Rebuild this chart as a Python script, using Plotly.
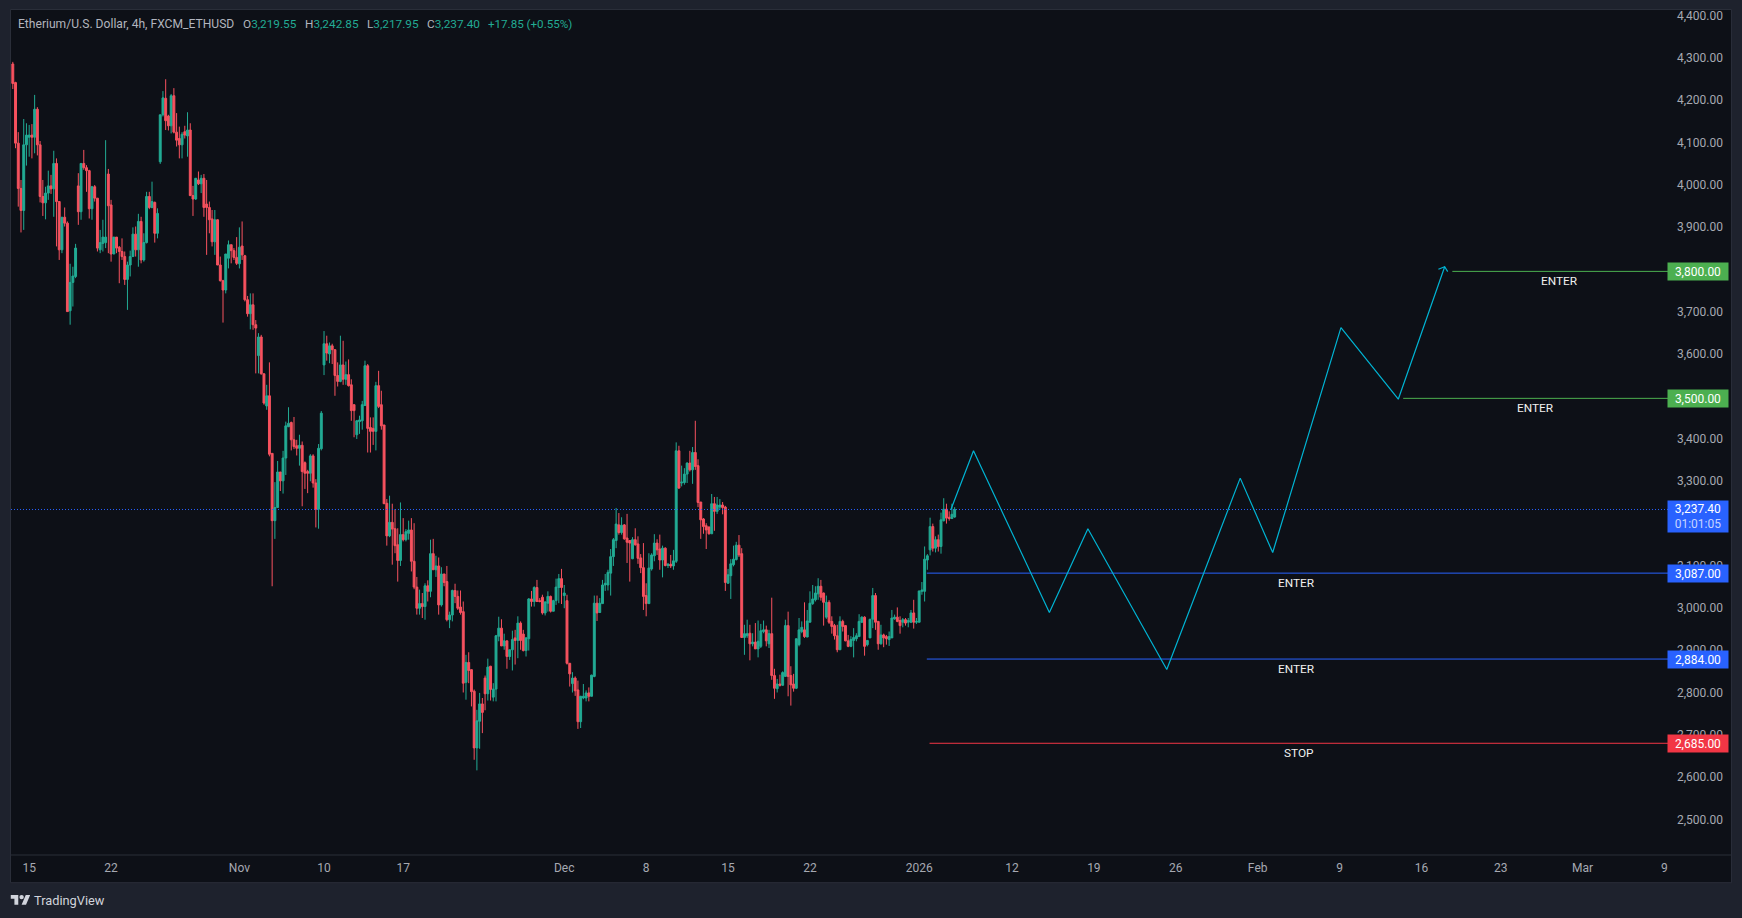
import plotly.graph_objects as go

opens = [
4290,4246,4103,3996,3944,4099,4117,4122,4117,4183,
4099,3977,3962,3985,4002,3995,4055,3965,3851,3928,
3914,3707,3774,3788,4002,3941,4055,4045,4038,3948,
4000,3973,3851,3866,3868,4030,3957,3841,3881,3857,
3847,3835,3781,3815,3835,3888,3851,3918,3827,3868,
3977,3951,3963,3890,4059,4170,4209,4167,4144,4215,
4129,4114,4099,4130,4120,4134,3979,3971,4016,4007,
4020,3959,3951,3924,3870,3922,3815,3778,3756,3831,
3863,3849,3833,3818,3860,3837,3733,3700,3721,3674,
3601,3645,3558,3482,3506,3370,3211,3242,3326,3305,
3359,3433,3443,3402,3388,3382,3389,3348,3327,3323,
3364,3300,3238,3381,3579,3629,3605,3624,3615,3554,
3540,3579,3545,3556,3532,3485,3414,3445,3447,3483,
3577,3431,3429,3422,3530,3485,3437,3252,3175,3207,
3192,3154,3117,3178,3166,3181,3189,3115,3054,3004,
3015,3008,3057,3044,3133,3095,3104,3012,3085,3067,
2977,2988,3046,3032,3007,2996,2829,2876,2859,2808,
2674,2737,2778,2839,2802,2867,2794,2813,2938,2957,
2915,2927,2890,2906,2934,2928,2969,2943,2904,2932,
3026,3020,3053,3022,3030,2993,3016,3032,2997,3022,
3053,3074,3034,3022,2874,2826,2839,2811,2736,2792,
2792,2804,2796,2843,3016,2994,3015,3059,3059,3087,
3126,3164,3201,3183,3201,3170,3164,3121,3166,3156,
3123,3100,3034,3015,3097,3128,3158,3144,3118,3146,
3105,3108,3104,3115,3376,3300,3301,3321,3347,3331,
3372,3341,3255,3215,3199,3196,3180,3251,3233,3243,
3248,3243,3063,3081,3107,3119,3153,3133,2935,2939,
2945,2920,2924,2908,2914,2949,2953,2920,2944,2845,
2814,2825,2822,2843,2963,2845,2825,2815,2918,2949,
2953,2936,2971,3015,3024,3038,3056,3040,2983,3018,
2973,2963,2939,2906,2973,2963,2927,2914,2928,2932,
2937,2971,2983,2918,2934,2978,3034,2973,2920,2941,
2937,2930,2934,2979,2983,2975,2971,2977,2971,2971,
2993,2971,2971,3044,3044,3118,3142,3197,3146,3166,
3150,3211,3238,3219,3216,3219.55]

highs = [
4295,4248,4129,4016,4160,4150,4146,4148,4217,4188,
4108,4016,4000,4038,4028,4085,4067,3966,3928,3951,
3918,3818,3811,3865,4032,4055,4087,4051,4040,4002,
4004,3973,3898,3922,4110,4042,3969,3881,3881,3860,
3878,3847,3823,3849,3904,3906,3936,3929,3890,3988,
3988,4012,3965,3949,4170,4226,4254,4170,4219,4233,
4174,4142,4129,4144,4176,4150,4002,4020,4036,4028,
4030,4016,3965,3945,3945,3923,3835,3780,3841,3873,
3863,3855,3881,3904,3918,3839,3742,3748,3748,3685,
3654,3650,3559,3532,3585,3370,3302,3352,3326,3376,
3445,3479,3445,3456,3402,3414,3398,3351,3331,3368,
3368,3309,3392,3470,3659,3648,3632,3629,3615,3585,
3648,3636,3587,3592,3545,3485,3449,3459,3494,3589,
3581,3455,3455,3539,3565,3518,3437,3262,3270,3251,
3238,3193,3254,3217,3191,3211,3217,3205,3078,3048,
3040,3063,3070,3166,3168,3128,3124,3101,3085,3104,
2996,3048,3062,3046,3046,3020,2894,2900,2859,2812,
2764,2804,2792,2845,2885,2868,2827,2941,2984,2978,
2944,2927,2906,2951,2953,2985,2973,2953,2936,3028,
3045,3056,3071,3028,3036,3020,3044,3034,3024,3074,
3085,3097,3059,3036,2874,2853,2843,2833,2797,2825,
2810,2817,2847,3034,3034,3028,3071,3085,3095,3144,
3170,3241,3229,3219,3203,3227,3165,3172,3193,3174,
3132,3158,3063,3134,3134,3179,3167,3178,3152,3148,
3111,3130,3142,3396,3388,3341,3335,3349,3376,3385,
3447,3356,3255,3217,3205,3197,3274,3267,3267,3262,
3255,3246,3097,3120,3152,3161,3177,3146,2965,2977,
2965,2945,2969,2975,2967,2975,2963,2953,3029,2861,
2837,2847,2855,2977,2996,2867,2849,2932,2981,2973,
3018,3000,3044,3059,3056,3075,3071,3041,3034,3023,
2985,2967,2965,2985,2977,2963,2941,2938,2957,2945,
2990,2985,2985,2928,2979,3052,3040,2973,2965,2944,
2941,2949,3000,2989,3006,2985,2981,2981,2981,3000,
3024,2981,3045,3066,3150,3132,3218,3204,3174,3178,
3230,3264,3251,3233,3251,3242.85]

lows = [
4231,4091,3953,3892,3898,4050,4071,4067,4079,4074,
3963,3931,3923,3969,3983,3929,3859,3827,3843,3906,
3705,3674,3717,3784,3910,3922,4040,3988,3925,3922,
3965,3847,3843,3847,3855,3843,3823,3841,3843,3772,
3827,3768,3709,3788,3835,3835,3811,3819,3823,3866,
3947,3949,3868,3878,4054,4166,4134,4133,4126,4126,
4095,4067,4067,4114,4071,3978,3931,3969,4004,3985,
3929,3839,3890,3859,3839,3815,3776,3679,3748,3807,
3819,3827,3815,3807,3827,3729,3693,3663,3662,3559,
3559,3556,3485,3473,3363,3056,3168,3242,3281,3275,
3319,3432,3377,3380,3365,3341,3245,3286,3276,3304,
3289,3195,3192,3377,3555,3589,3583,3581,3506,3528,
3538,3532,3532,3528,3447,3408,3404,3416,3426,3482,
3372,3372,3390,3377,3477,3426,3251,3152,3172,3107,
3134,3067,3104,3162,3162,3166,3091,3049,2989,2989,
2981,2977,3020,3030,3095,3078,2989,3008,3056,2973,
2957,2973,3016,3000,2989,2805,2788,2827,2772,2646,
2621,2672,2709,2763,2786,2786,2784,2784,2926,2915,
2906,2861,2882,2857,2871,2886,2906,2902,2890,2904,
3008,3008,3020,3018,2989,2987,2996,2994,2997,3012,
3016,3014,3004,2871,2819,2805,2797,2719,2721,2789,
2784,2784,2796,2841,2974,2994,3015,3045,3046,3034,
3104,3146,3178,3178,3166,3111,3067,3120,3152,3109,
3087,3000,2985,3016,3093,3115,3130,3095,3077,3103,
3099,3099,3095,3111,3286,3292,3296,3300,3327,3298,
3331,3243,3168,3180,3144,3178,3180,3187,3227,3237,
3226,3045,3063,3026,3103,3117,3125,2934,2894,2934,
2881,2914,2908,2888,2910,2945,2914,2910,2835,2790,
2805,2819,2821,2843,2796,2774,2807,2813,2914,2945,
2934,2936,2971,3012,3020,3024,3022,2963,2979,2967,
2944,2930,2900,2906,2949,2926,2912,2912,2888,2926,
2937,2969,2892,2914,2934,2957,2953,2906,2918,2912,
2918,2915,2934,2977,2971,2944,2959,2963,2959,2969,
2956,2967,2971,3036,3020,3095,3129,3138,3136,3138,
3133,3209,3204,3211,3215,3217.95]

closes = [
4244,4103,3996,3944,4099,4122,4122,4117,4183,4099,
3977,3962,3985,4002,3995,4055,3965,3851,3928,3914,
3705,3774,3789,3855,3941,4055,4045,4038,3948,4000,
3973,3855,3868,3881,3881,3955,3841,3881,3855,3847,
3835,3781,3815,3835,3888,3851,3918,3827,3868,3977,
3951,3965,3890,3937,4170,4210,4156,4144,4215,4129,
4110,4099,4124,4122,4134,3979,3971,4020,4007,4020,
3951,3951,3922,3870,3922,3815,3778,3756,3841,3863,
3849,3833,3819,3857,3839,3733,3700,3721,3674,3666,
3645,3558,3489,3506,3368,3211,3242,3326,3305,3359,
3435,3441,3402,3386,3382,3389,3327,3323,3323,3364,
3300,3238,3382,3465,3629,3607,3624,3615,3554,3540,
3579,3545,3556,3530,3471,3471,3447,3449,3485,3577,
3429,3422,3422,3530,3481,3435,3251,3175,3207,3191,
3152,3117,3178,3166,3185,3189,3115,3054,3004,3015,
3008,3057,3044,3133,3095,3104,3012,3085,3065,2977,
2988,3046,3032,3004,2994,2827,2876,2857,2807,2674,
2738,2778,2758,2802,2865,2812,2813,2939,2957,2915,
2927,2890,2906,2930,2928,2969,2928,2904,2934,3026,
3020,3053,3020,3020,2993,3019,3032,2997,3022,3054,
3074,3053,3040,2874,2849,2839,2809,2736,2796,2796,
2804,2796,2846,3016,2993,3016,3059,3063,3089,3126,
3166,3203,3183,3200,3168,3160,3158,3166,3154,3122,
3100,3032,3015,3099,3130,3158,3142,3118,3146,3105,
3108,3104,3116,3376,3288,3302,3321,3347,3331,3372,
3339,3254,3213,3197,3189,3180,3251,3233,3248,3248,
3242,3065,3083,3109,3120,3153,3130,2935,2944,2944,
2920,2924,2908,2926,2951,2953,2927,2944,2845,2815,
2825,2822,2852,2963,2843,2823,2815,2932,2953,2959,
2937,2974,3016,3026,3040,3056,3030,3018,3018,2971,
2961,2939,2906,2973,2961,2927,2914,2930,2935,2939,
2973,2983,2914,2928,2978,3034,2971,2920,2941,2934,
2932,2937,2981,2983,2973,2963,2977,2969,2975,2993,
2971,2973,3045,3047,3120,3128,3197,3146,3166,3150,
3213,3238,3217,3216,3226,3237.40]

bars = list(range(len(closes)))

x_tick_bars = [6, 36, 83, 114, 143, 202, 232, 262, 292, 332, 366, 396, 426, 456, 486, 516, 545, 575, 605]
x_tick_text = ["15", "22", "Nov", "10", "17", "Dec", "8", "15", "22", "2026", "12", "19", "26", "Feb", "9", "16", "23", "Mar", "9"]
y_ticks = list(range(2500, 4401, 100))

path_bars = [343.6, 351.9, 379.7, 393.8, 422.7, 449.6, 461.5, 486.5, 507.5, 524.5]
path_prices = [3236.6, 3376, 2994, 3191.7, 2859.4, 3311.5, 3135.7, 3667.2, 3498, 3811]
arrow_bars = [522.2, 524.5, 525.6]
arrow_prices = [3805, 3811, 3799.4]

level_prices = [3800, 3500, 3087, 2884, 2685]
level_starts = [527.3, 509.3, 334.8, 334.8, 335.8]
level_names = ["ENTER", "ENTER", "ENTER", "ENTER", "STOP"]
level_name_bars = [566.6, 557.8, 470.4, 470.4, 471.0]
level_name_prices = [3778, 3478, 3064, 2861, 2662.5]
level_colors = ["#4caf50", "#4caf50", "#2962ff", "#2962ff", "#f23645"]

last_price = 3237.40
countdown = "01:01:05"

UP, DOWN = "#22ab94", "#f7525f"
INNER, OUTER, FRAME = "#0d1017", "#1e222d", "#2a2e39"
TXT = "#a6a9b2"
FONT = "Roboto, sans-serif"

X_RANGE = [-0.66, 606.3]
Y_RANGE = [2421.0, 4417.6]
L, R, T, B = 10.5, 1668.0, 10.0, 855.3


def px(x):
    return (x - L) / (R - L)


def py(y):
    return 1 - (y - T) / (B - T)


fig = go.Figure()
fig.add_trace(go.Candlestick(
    x=bars, open=opens, high=highs, low=lows, close=closes,
    whiskerwidth=0,
    increasing=dict(line=dict(color=UP, width=1), fillcolor=UP),
    decreasing=dict(line=dict(color=DOWN, width=1), fillcolor=DOWN),
    hoverinfo="skip",
))
fig.add_trace(go.Scatter(x=X_RANGE, y=[last_price, last_price], mode="lines",
                         line=dict(color="#2962ff", width=1, dash="1px,2px"), hoverinfo="skip"))
for price, start, color in zip(level_prices, level_starts, level_colors):
    fig.add_trace(go.Scatter(x=[start, X_RANGE[1]], y=[price, price], mode="lines",
                             line=dict(color=color, width=1), hoverinfo="skip"))
fig.add_trace(go.Scatter(x=path_bars, y=path_prices, mode="lines",
                         line=dict(color="#00b4d4", width=1.2), hoverinfo="skip"))
fig.add_trace(go.Scatter(x=arrow_bars, y=arrow_prices, mode="lines",
                         line=dict(color="#00b4d4", width=1.2), hoverinfo="skip"))

ann = []
for name, bx, by in zip(level_names, level_name_bars, level_name_prices):
    ann.append(dict(x=bx, y=by, xref="x", yref="y", text=name, showarrow=False,
                    font=dict(family=FONT, size=11.8, color="#f0f0f0")))
for price, color in zip(level_prices, level_colors):
    ann.append(dict(x=px(1698), y=price, xref="paper", yref="y", xanchor="center", yanchor="middle",
                    text=f"{price:,.2f}", showarrow=False,
                    bgcolor=color, width=60, height=17, borderpad=0,
                    font=dict(family=FONT, size=12, color="#ffffff")))
ann.append(dict(x=px(1698), y=last_price, yshift=-6.7, xref="paper", yref="y", xanchor="center", yanchor="middle",
                text=f"{last_price:,.2f}<br><span style='color:#c6d4ff'>{countdown}</span>",
                showarrow=False, bgcolor="#2962ff", width=60, height=31, borderpad=0,
                font=dict(family=FONT, size=12, color="#ffffff")))


def header(x, html, size=11.8):
    ann.append(dict(x=px(x), y=py(24.5), xref="paper", yref="paper", xanchor="left", yanchor="middle",
                    text=html, showarrow=False, borderpad=0,
                    font=dict(family=FONT, size=size, color="#b2b5be")))


def val(s):
    return f"<span style='color:{UP}'>{s}</span>"


header(17, "Etherium/U.S. Dollar, 4h, FXCM_ETHUSD", 12.1)
header(242, "O" + val(f"{opens[-1]:,.2f}"))
header(304, "H" + val(f"{highs[-1]:,.2f}"))
header(365.5, "L" + val(f"{lows[-1]:,.2f}"))
header(425.5, "C" + val(f"{closes[-1]:,.2f}"))
header(486.5, val(f"+{closes[-1] - opens[-1]:.2f} ({(closes[-1] - opens[-1]) / opens[-1] * 100:+.2f}%)"), 11.6)
ann.append(dict(x=px(32.5), y=py(900.5), xref="paper", yref="paper", xanchor="left", yanchor="middle",
                text="TradingView", showarrow=False, borderpad=0,
                font=dict(family=FONT, size=12.8, color="#d1d4dc")))

logo = ("data:image/svg+xml;utf8,<svg xmlns='http://www.w3.org/2000/svg' viewBox='0 0 36 28'>"
        "<path fill='%23d1d4dc' d='M14 22H7V11H0V4h14v18zM28 22h-8l7.5-18h8L28 22z'/>"
        "<circle fill='%23d1d4dc' cx='20' cy='8' r='4'/></svg>")

fig.update_layout(
    width=1742, height=918,
    margin=dict(l=L, r=1742 - R, t=T, b=918 - B, pad=0, autoexpand=False),
    paper_bgcolor=OUTER, plot_bgcolor=INNER,
    showlegend=False, hovermode=False, dragmode=False,
    boxgap=0.3, boxgroupgap=0,
    font=dict(family=FONT, size=12, color=TXT),
    xaxis=dict(range=X_RANGE, rangeslider=dict(visible=False), showgrid=False, zeroline=False,
               showline=False, tickmode="array", tickvals=x_tick_bars, ticktext=x_tick_text,
               ticks="", tickangle=0, ticklabelstandoff=4, tickfont=dict(family=FONT, size=12, color=TXT)),
    yaxis=dict(range=Y_RANGE, side="right", showgrid=False, zeroline=False, showline=False,
               tickmode="array", tickvals=y_ticks, tickformat=",.2f", ticks="",
               ticklabelstandoff=8, ticklabelshift=-2, tickfont=dict(family=FONT, size=12, color=TXT)),
    annotations=ann,
    images=[dict(source=logo, xref="paper", yref="paper", x=px(10), y=py(893), sizex=20 / (R - L),
                 sizey=15.5 / (B - T), xanchor="left", yanchor="top", sizing="contain", layer="above")],
    shapes=[
        dict(type="rect", xref="paper", yref="paper", x0=px(10), x1=px(1731.5), y0=py(883), y1=py(9.5),
             fillcolor=INNER, line=dict(color=FRAME, width=1), layer="below"),
        dict(type="line", xref="paper", yref="paper", x0=px(10), x1=px(1731.5), y0=py(855.3), y1=py(855.3),
             line=dict(color=FRAME, width=1), layer="above"),
    ],
)

fig.write_html("out.html", config=dict(displayModeBar=False),
               post_script="document.body.style.margin='0';document.body.style.overflow='hidden';"
                           "document.body.style.background='#1e222d';")
